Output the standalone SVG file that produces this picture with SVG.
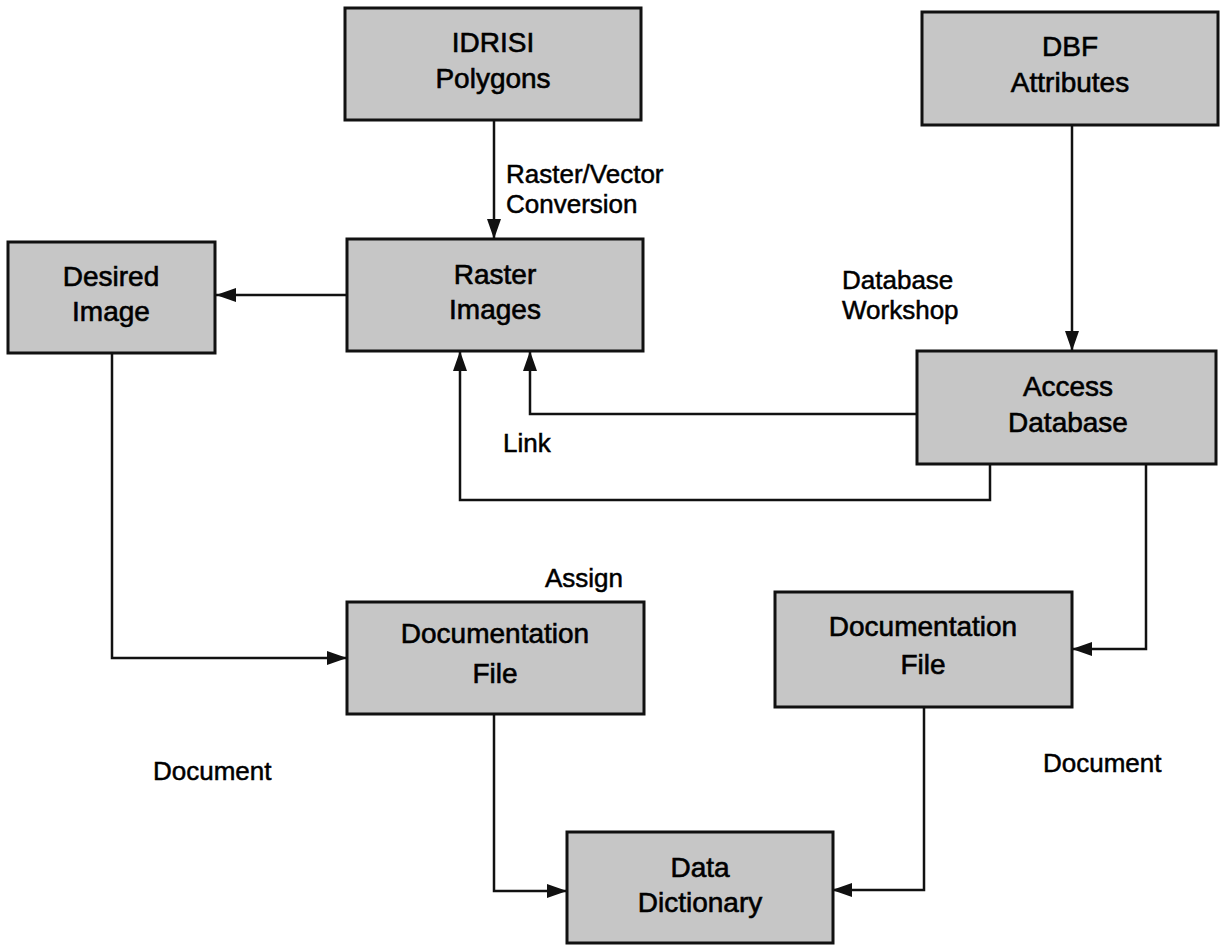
<svg xmlns="http://www.w3.org/2000/svg" width="1222" height="945" viewBox="0 0 1222 945">
<defs>
<style>
.box{fill:#c6c6c6;stroke:#111;stroke-width:3}
.bt{font-family:"Liberation Sans",Arial,sans-serif;font-size:28px;fill:#000;stroke:#000;stroke-width:0.6;text-anchor:middle}
.lbl{font-family:"Liberation Sans",Arial,sans-serif;font-size:26px;fill:#000;stroke:#000;stroke-width:0.5}
.con{fill:none;stroke:#111;stroke-width:2.5;marker-end:url(#arr)}
</style>
<marker id="arr" markerUnits="userSpaceOnUse" markerWidth="22" markerHeight="16" refX="20" refY="7" orient="auto">
<path d="M0,0 L20,7 L0,14 z" fill="#111"/>
</marker>
</defs>
<rect width="1222" height="945" fill="#fff"/>
<g id="connectors">
<path class="con" d="M494,120 V239"/>
<path class="con" d="M1072,125 V351"/>
<path class="con" d="M347,295 H216"/>
<path class="con" d="M917,414 H530 V351"/>
<path class="con" d="M990,464 V500 H460 V351"/>
<path class="con" d="M112,353 V658 H347"/>
<path class="con" d="M1146,464 V649 H1072"/>
<path class="con" d="M494,714 V891 H567"/>
<path class="con" d="M924,707 V890 H832"/>
</g>
<g id="idrisi"><rect class="box" x="345" y="8" width="296" height="112"/><text class="bt" x="493" y="52">IDRISI</text><text class="bt" x="493" y="88">Polygons</text></g>
<g id="dbf"><rect class="box" x="922" y="12" width="296" height="113"/><text class="bt" x="1070" y="56">DBF</text><text class="bt" x="1070" y="92">Attributes</text></g>
<g id="desired"><rect class="box" x="8" y="242" width="207" height="111"/><text class="bt" x="111" y="286">Desired</text><text class="bt" x="111" y="321">Image</text></g>
<g id="raster"><rect class="box" x="347" y="239" width="296" height="112"/><text class="bt" x="495" y="284">Raster</text><text class="bt" x="495" y="319">Images</text></g>
<g id="access"><rect class="box" x="917" y="351" width="299" height="113"/><text class="bt" x="1068" y="396">Access</text><text class="bt" x="1068" y="432">Database</text></g>
<g id="docleft"><rect class="box" x="347" y="602" width="297" height="112"/><text class="bt" x="495" y="643">Documentation</text><text class="bt" x="495" y="683">File</text></g>
<g id="docright"><rect class="box" x="775" y="592" width="297" height="115"/><text class="bt" x="923" y="636">Documentation</text><text class="bt" x="923" y="674">File</text></g>
<g id="datadict"><rect class="box" x="567" y="832" width="266" height="111"/><text class="bt" x="700" y="877">Data</text><text class="bt" x="700" y="912">Dictionary</text></g>
<g id="labels">
<text class="lbl" x="506" y="183">Raster/Vector</text>
<text class="lbl" x="506" y="213">Conversion</text>
<text class="lbl" x="842" y="289">Database</text>
<text class="lbl" x="842" y="319">Workshop</text>
<text class="lbl" x="503" y="452">Link</text>
<text class="lbl" x="545" y="587">Assign</text>
<text class="lbl" x="153" y="780">Document</text>
<text class="lbl" x="1043" y="772">Document</text>
</g>
</svg>
